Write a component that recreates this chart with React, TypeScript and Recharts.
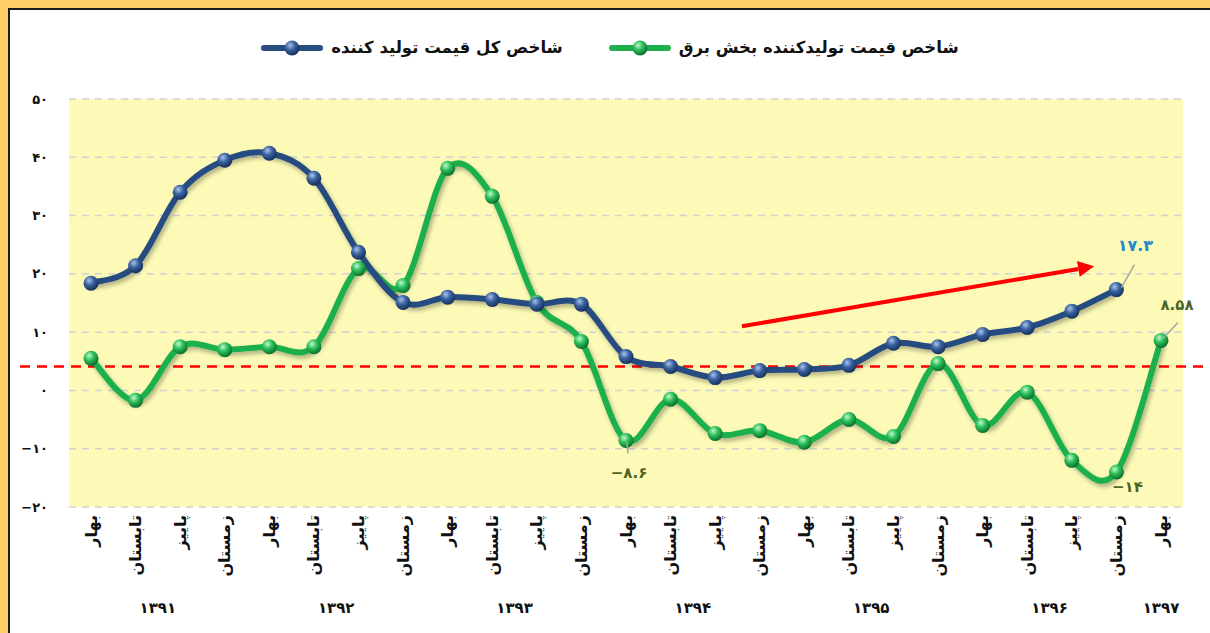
import * as React from "react";

import { CartesianGrid, Line, LineChart, ReferenceLine, XAxis, YAxis } from "recharts";

// quarters (seasons) from 1391 spring to 1397 spring
const seasons = [
  "بهار", "تابستان", "پاییز", "زمستان",
  "بهار", "تابستان", "پاییز", "زمستان",
  "بهار", "تابستان", "پاییز", "زمستان",
  "بهار", "تابستان", "پاییز", "زمستان",
  "بهار", "تابستان", "پاییز", "زمستان",
  "بهار", "تابستان", "پاییز", "زمستان",
  "بهار",
];
const years = ["۱۳۹۱", "۱۳۹۲", "۱۳۹۳", "۱۳۹۴", "۱۳۹۵", "۱۳۹۶", "۱۳۹۷"];

const totalPPI = [
  18.4, 21.4, 34.0, 39.5, 40.7, 36.4, 23.7, 15.1, 16.0, 15.6, 14.8, 14.8,
  5.8, 4.1, 2.2, 3.4, 3.6, 4.3, 8.1, 7.5, 9.6, 10.8, 13.6, 17.3, null,
];
const powerPPI = [
  5.5, -1.7, 7.5, 7.0, 7.5, 7.5, 20.9, 18.0, 38.1, 33.3, 15.1, 8.4,
  -8.6, -1.5, -7.4, -6.9, -8.9, -5.0, -7.9, 4.6, -6.0, -0.3, -12.0, -14, 8.58,
];

const yTicks = [-20, -10, 0, 10, 20, 30, 40, 50];
const baseline = 4.1;
const trendFrom = { x: 14.6, y: 11.0 };
const trendTo = { x: 22.5, y: 21.3 };

const legendTotal = "شاخص کل قیمت تولید کننده";
const legendPower = "شاخص قیمت تولیدکننده بخش برق";

const chartData = seasons.map((s, i) => ({
  idx: i,
  season: s,
  total: totalPPI[i],
  power: powerPPI[i],
}));

const FONT = "'DejaVu Sans', sans-serif";

const toFa = (v: number | string) =>
  String(v)
    .replace(/-/g, "−")
    .replace(/\d/g, (d) => "۰۱۲۳۴۵۶۷۸۹"[+d]);

// excel-like smoothing (catmull-rom as bezier)
const smoothCurve: any = (context: any) => {
  let pts: number[][] = [];
  return {
    areaStart() {},
    areaEnd() {},
    lineStart() {
      pts = [];
    },
    point(x: number, y: number) {
      pts.push([+x, +y]);
    },
    lineEnd() {
      const n = pts.length;
      if (!n) return;
      context.moveTo(pts[0][0], pts[0][1]);
      for (let i = 0; i < n - 1; i++) {
        const p0 = pts[i - 1] || pts[i];
        const p1 = pts[i];
        const p2 = pts[i + 1];
        const p3 = pts[i + 2] || p2;
        context.bezierCurveTo(
          p1[0] + (p2[0] - p0[0]) / 6,
          p1[1] + (p2[1] - p0[1]) / 6,
          p2[0] - (p3[0] - p1[0]) / 6,
          p2[1] - (p3[1] - p1[1]) / 6,
          p2[0],
          p2[1]
        );
      }
    },
  };
};

const Ball = ({ fill }: { fill: string }) => (
  <svg width={62} height={18} style={{ display: "block" }}>
    <line x1={3} y1={9} x2={59} y2={9} stroke={fill === "blue" ? "#274C80" : "#1DB04D"} strokeWidth={6} strokeLinecap="round" />
    <circle cx={31} cy={9} r={7.5} fill={fill === "blue" ? "url(#lgBlue)" : "url(#lgGreen)"} />
  </svg>
);

const SeasonTick = (props: any) => {
  const { x, y, payload } = props;
  const i = payload.value;
  const ty = y + 6;
  let year = null;
  if (i % 4 === 1) year = { x: x + 22.3, t: years[Math.floor(i / 4)] };
  if (i === seasons.length - 1) year = { x: x, t: years[years.length - 1] };
  return (
    <g>
      <text
        x={x}
        y={ty}
        transform={`rotate(-90, ${x}, ${ty})`}
        textAnchor="end"
        dominantBaseline="central"
        fontFamily={FONT}
        fontWeight="bold"
        fontSize={16}
        fill="#111"
      >
        {seasons[i]}
      </text>
      {year && (
        <text x={year.x} y={y + 104} textAnchor="middle" fontFamily={FONT} fontWeight="bold" fontSize={15} fill="#111">
          {year.t}
        </text>
      )}
    </g>
  );
};

const ValueTick = (props: any) => {
  const { x, y, payload } = props;
  return (
    <text x={x} y={y} dy="0.35em" textAnchor="end" fontFamily={FONT} fontWeight="bold" fontSize={13} fill="#111">
      {toFa(payload.value)}
    </text>
  );
};

const makeDot = (grad: string) => (p: any) => {
  if (p.cy == null || p.value == null) return <g key={p.index} />;
  return <circle key={p.index} cx={p.cx} cy={p.cy} r={7.5} fill={`url(#${grad})`} />;
};

const totalLabel = (p: any) => {
  const { x, y, index, value } = p;
  if (index !== 23 || value == null) return <g key={index} />;
  return (
    <g key={index}>
      <line x1={x + 5} x2={x + 18} y1={y - 2} y2={y - 25} stroke="#A6A6A6" strokeWidth={1.5} />
      <text x={x + 19} y={y - 44} dy="0.35em" textAnchor="middle" fontFamily={FONT} fontWeight="bold" fontSize={16} fill="#1F88CC">
        {toFa(value)}
      </text>
    </g>
  );
};

const powerLabel = (p: any) => {
  const { x, y, index, value } = p;
  const common = { fontFamily: FONT, fontWeight: "bold", fontSize: 15, fill: "#4F6228", textAnchor: "middle" as const, dy: "0.35em" };
  if (index === 12)
    return (
      <g key={index}>
        <line x1={x + 1} x2={x + 2} y1={y + 2} y2={y + 13} stroke="#A6A6A6" strokeWidth={1.5} />
        <text x={x + 3} y={y + 32} {...common}>{toFa(value)}</text>
      </g>
    );
  if (index === 23)
    return (
      <g key={index}>
        <text x={x + 11} y={y + 15} {...common}>{toFa(value)}</text>
      </g>
    );
  if (index === 24)
    return (
      <g key={index}>
        <line x1={x + 2} x2={x + 17} y1={y - 2} y2={y - 18} stroke="#A6A6A6" strokeWidth={1.5} />
        <text x={x + 16} y={y - 36} {...common}>{toFa(value)}</text>
      </g>
    );
  return <g key={index} />;
};

const TrendArrow = (p: any) => {
  const { x1, y1, x2, y2 } = p;
  const a = Math.atan2(y2 - y1, x2 - x1);
  const len = 16;
  const hw = 8;
  const bx = x2 - len * Math.cos(a);
  const by = y2 - len * Math.sin(a);
  const nx = -Math.sin(a) * hw;
  const ny = Math.cos(a) * hw;
  return (
    <g>
      <line x1={x1} y1={y1} x2={bx} y2={by} stroke="#FF0000" strokeWidth={4} />
      <polygon points={`${x2},${y2} ${bx + nx},${by + ny} ${bx - nx},${by - ny}`} fill="#FF0000" />
    </g>
  );
};

const BaseLine = (p: any) => {
  const { x1, y1, x2, y2 } = p;
  return <line x1={x1 - 49} x2={x2 + 30} y1={y1} y2={y2} stroke="#FF0000" strokeWidth={2.5} strokeDasharray="10 7" />;
};

const App = () => {
  return (
    <div style={{ position: "absolute", left: 0, top: 0, width: 1210, height: 633, background: "#FFCC66", overflow: "hidden" }}>
      <svg width={0} height={0} style={{ position: "absolute" }}>
        <defs>
          <radialGradient id="lgBlue" cx="38%" cy="32%" r="70%">
            <stop offset="0%" stopColor="#A9C2EA" />
            <stop offset="45%" stopColor="#3A62A0" />
            <stop offset="100%" stopColor="#142E58" />
          </radialGradient>
          <radialGradient id="lgGreen" cx="38%" cy="32%" r="70%">
            <stop offset="0%" stopColor="#C2F7CB" />
            <stop offset="45%" stopColor="#2CC05B" />
            <stop offset="100%" stopColor="#0A6A2A" />
          </radialGradient>
        </defs>
      </svg>
      <div
        style={{
          position: "absolute",
          left: 8,
          top: 8,
          width: 1202,
          height: 625,
          background: "#FFFFFF",
          borderLeft: "2px solid #1A1A1A",
          borderTop: "2px solid #1A1A1A",
          boxSizing: "border-box",
        }}
      >
        <div
          style={{
            position: "absolute",
            top: 28,
            left: 0,
            width: 1200,
            display: "flex",
            justifyContent: "center",
            alignItems: "center",
            fontFamily: FONT,
            fontWeight: "bold",
            fontSize: 16.5,
            color: "#111",
            paddingLeft: 0,
            boxSizing: "border-box",
          }}
        >
          <Ball fill="blue" />
          <span dir="rtl" style={{ marginLeft: 8 }}>{legendTotal}</span>
          <span style={{ width: 46 }} />
          <Ball fill="green" />
          <span dir="rtl" style={{ marginLeft: 8 }}>{legendPower}</span>
        </div>
        <LineChart width={1200} height={623} data={chartData} margin={{ top: 89, right: 27, left: 0, bottom: 0 }}>
          <defs>
            <radialGradient id="ballBlue" cx="38%" cy="32%" r="70%">
              <stop offset="0%" stopColor="#A9C2EA" />
              <stop offset="45%" stopColor="#3A62A0" />
              <stop offset="100%" stopColor="#142E58" />
            </radialGradient>
            <radialGradient id="ballGreen" cx="38%" cy="32%" r="70%">
              <stop offset="0%" stopColor="#C2F7CB" />
              <stop offset="45%" stopColor="#2CC05B" />
              <stop offset="100%" stopColor="#0A6A2A" />
            </radialGradient>
            <filter id="lineShadow" x="-5%" y="-10%" width="110%" height="130%">
              <feDropShadow dx={2} dy={3} stdDeviation={2} floodColor="#000" floodOpacity={0.3} />
            </filter>
          </defs>
          <CartesianGrid
            vertical={false}
            fill="#FCFAB6"
            stroke="#D2D2D2"
            strokeWidth={1.5}
            strokeDasharray="7 6"
          />
          <XAxis
            dataKey="idx"
            type="number"
            domain={[0, seasons.length - 1]}
            ticks={seasons.map((_, i) => i)}
            interval={0}
            padding={{ left: 22, right: 22 }}
            axisLine={false}
            tickLine={false}
            tickSize={0}
            height={126}
            tick={<SeasonTick />}
          />
          <YAxis
            domain={[-20, 50]}
            ticks={yTicks}
            interval={0}
            width={59}
            axisLine={false}
            tickLine={false}
            tickSize={0}
            tickMargin={21}
            tick={<ValueTick />}
          />
          <ReferenceLine y={baseline} shape={<BaseLine />} />
          <ReferenceLine segment={[trendFrom, trendTo]} shape={<TrendArrow />} />
          <Line
            dataKey="power"
            type={smoothCurve}
            stroke="#1DB04D"
            strokeWidth={6}
            filter="url(#lineShadow)"
            dot={makeDot("ballGreen")}
            activeDot={false}
            label={powerLabel}
            isAnimationActive={false}
          />
          <Line
            dataKey="total"
            type={smoothCurve}
            stroke="#274C80"
            strokeWidth={6}
            filter="url(#lineShadow)"
            dot={makeDot("ballBlue")}
            activeDot={false}
            label={totalLabel}
            isAnimationActive={false}
          />
        </LineChart>
      </div>
    </div>
  );
};

export default App;
